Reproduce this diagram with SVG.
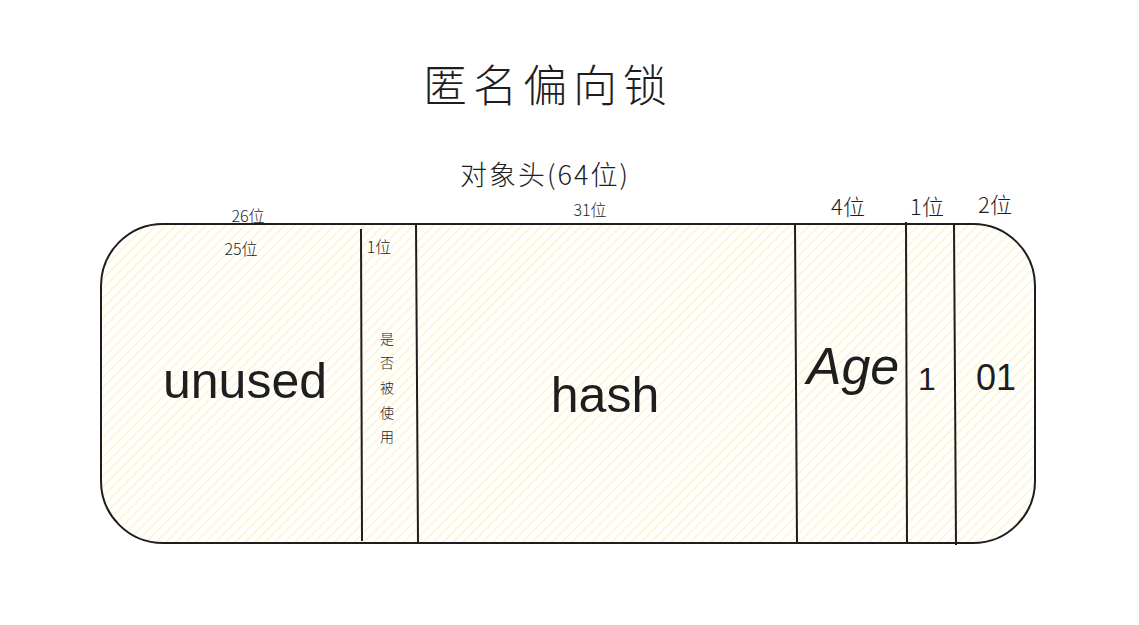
<svg xmlns="http://www.w3.org/2000/svg" width="1139" height="625" viewBox="0 0 1139 625">
<defs>
<pattern id="hatch" patternUnits="userSpaceOnUse" x="0" y="0" width="7" height="7" patternTransform="rotate(45)">
<rect x="3" y="0" width="1.3" height="7" fill="#fcf2c8"/>
</pattern>
<style>
.t{font-family:"Liberation Sans","Noto Sans CJK SC",sans-serif;fill:#1e1e1e;text-anchor:middle}
.c{font-family:"Noto Sans CJK SC",sans-serif;fill:#1e1e1e;text-anchor:middle;font-weight:300}
.ln{stroke:#1e1e1e;stroke-width:2;fill:none}
</style>
</defs>
<rect width="1139" height="625" fill="#ffffff"/>
<g id="title"><text class="c" x="548" y="102" font-size="44" letter-spacing="6">匿名偏向锁</text></g>
<g id="subtitle"><text class="c" x="545" y="185" font-size="27" letter-spacing="2">对象头(64位)</text></g>
<g id="header">
<rect x="101" y="224" width="934" height="319" rx="62" ry="62" fill="url(#hatch)"/>
<rect x="101" y="224" width="934" height="319" rx="62" ry="62" class="ln"/>
</g>
<g id="dividers">
<line class="ln" x1="361" y1="229" x2="362" y2="541"/>
<line class="ln" x1="416" y1="224" x2="418" y2="543"/>
<line class="ln" x1="795" y1="224" x2="797" y2="543"/>
<line class="ln" x1="906" y1="222" x2="907" y2="544"/>
<line class="ln" x1="954" y1="224" x2="956" y2="545"/>
</g>
<g id="labels">
<text class="c" x="248" y="222" font-size="16">26位</text>
<text class="c" x="241" y="255" font-size="16">25位</text>
<text class="c" x="379" y="253" font-size="16">1位</text>
<text class="c" x="590" y="216" font-size="16">31位</text>
<text class="c" x="848" y="215" font-size="22">4位</text>
<text class="c" x="927" y="215" font-size="22">1位</text>
<text class="c" x="995" y="213" font-size="22">2位</text>
</g>
<g id="vertical">
<text class="c" x="387" y="344" font-size="14">是</text>
<text class="c" x="387" y="368" font-size="14">否</text>
<text class="c" x="387" y="393" font-size="14">被</text>
<text class="c" x="387" y="418" font-size="14">使</text>
<text class="c" x="387" y="442" font-size="14">用</text>
</g>
<g id="fields">
<text class="t" x="245" y="398" font-size="50">unused</text>
<text class="t" x="605" y="412" font-size="50">hash</text>
<text class="t" x="853" y="384" font-size="52" font-style="italic">Age</text>
<text class="t" x="927" y="390" font-size="32">1</text>
<text class="t" x="996" y="390" font-size="36">01</text>
</g>
</svg>
